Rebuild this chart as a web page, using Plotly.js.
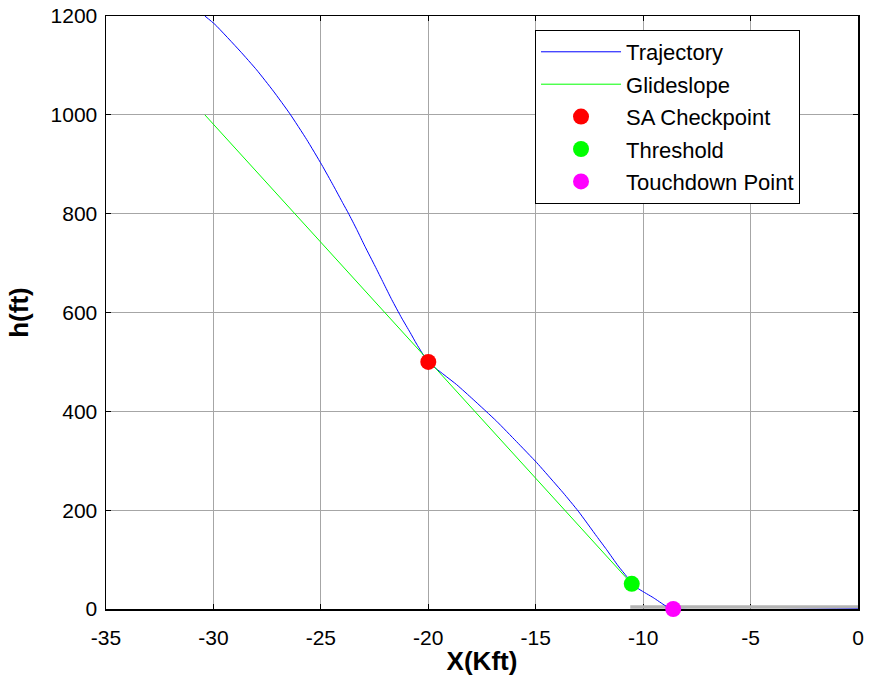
<!DOCTYPE html>
<html>
<head>
<meta charset="utf-8">
<script src="https://cdn.plot.ly/plotly-3.0.1.min.js"></script>
<style>
  html, body { margin: 0; padding: 0; background: #fff; }
  #chart { width: 870px; height: 683px; }
</style>
</head>
<body>
<div id="chart"></div>
<script>
// Trajectory (X in kft, h in ft)
var trajX = [-30.4, -29.93, -28.76, -27.99, -27.21, -26.44, -25.66, -24.96, -24.42, -23.96, -23.72, -23.33, -22.95, -22.48, -22.09, -21.70, -21.24, -20.85, -20.54, -20.0, -18.68, -17.91, -16.82, -15.9, -14.95, -14.18, -13.72, -13.02, -12.16, -11.70, -11.16, -10.77, -10.53, -10.15, -9.53, -8.98, -8.80, -8.6, 0];
var trajH = [1200, 1183, 1129, 1091, 1048, 1002, 950, 899, 857, 820, 801, 768, 734, 694, 660, 626, 589, 560, 536, 500, 454, 424, 380, 339, 296, 258, 235, 198, 147, 120, 87, 66, 51, 39, 23, 7, 3, 0, 0];

// Glideslope
var glideX = [-30.4, -10.53];
var glideH = [1000, 51];

// Runway
var runwayX = [-10.6, 0];
var runwayH = [4, 4];

// Key points
var saX = [-20.0], saH = [500];
var thrX = [-10.53], thrH = [51];
var tdX = [-8.6], tdH = [0];

var xTicks = [-35, -30, -25, -20, -15, -10, -5, 0];
var yTicks = [0, 200, 400, 600, 800, 1000, 1200];

var FONT = '"Liberation Sans", Arial, sans-serif';

var traces = [
  {x: runwayX, y: runwayH, mode: 'lines', line: {color: '#b4b4b4', width: 3.5}, showlegend: false, hoverinfo: 'skip', cliponaxis: false},
  {x: trajX, y: trajH, mode: 'lines', name: 'Trajectory', legendgroup: 'a', line: {color: '#0000ff', width: 1, shape: 'spline', smoothing: 0.5}, cliponaxis: false},
  {x: glideX, y: glideH, mode: 'lines', name: 'Glideslope', legendgroup: 'b', line: {color: '#00ff00', width: 1}},
  {x: saX, y: saH, mode: 'markers', name: 'SA Checkpoint', legendgroup: 'c', marker: {color: '#ff0000', size: 16}},
  {x: thrX, y: thrH, mode: 'markers', name: 'Threshold', legendgroup: 'd', marker: {color: '#00ff00', size: 16}},
  {x: tdX, y: tdH, mode: 'markers', name: 'Touchdown Point', legendgroup: 'e', marker: {color: '#ff00ff', size: 16}, cliponaxis: false}
];

var layout = {
  width: 870, height: 683,
  margin: {l: 106, r: 12, t: 16, b: 74},
  paper_bgcolor: '#ffffff', plot_bgcolor: '#ffffff',
  font: {family: FONT, color: '#000000', size: 21},
  showlegend: true,
  legend: {
    x: 0.5705, y: 0.9764, xanchor: 'left', yanchor: 'top',
    bgcolor: '#ffffff', bordercolor: '#000000', borderwidth: 1,
    font: {family: FONT, size: 22, color: '#000000'},
    traceorder: 'grouped', tracegroupgap: 0.8, itemwidth: 80
  },
  xaxis: {
    range: [-35, 0], tickvals: xTicks, ticktext: xTicks.map(String),
    showgrid: true, gridcolor: '#a6a6a6', gridwidth: 1,
    zeroline: false, showline: true, linecolor: '#000000', linewidth: 1.5,
    mirror: 'ticks', ticks: 'inside', ticklen: 5, tickcolor: '#000000',
    ticklabelstandoff: 9, layer: 'below traces',
    tickfont: {family: FONT, size: 21},
    title: {text: '<b>X(Kft)</b>', font: {family: FONT, size: 26}, standoff: 4}
  },
  yaxis: {
    range: [0, 1200], tickvals: yTicks, ticktext: yTicks.map(String),
    showgrid: true, gridcolor: '#a6a6a6', gridwidth: 1,
    zeroline: false, showline: true, linecolor: '#000000', linewidth: 1.5,
    mirror: 'ticks', ticks: 'inside', ticklen: 5, tickcolor: '#000000',
    ticklabelstandoff: 3, layer: 'below traces',
    tickfont: {family: FONT, size: 21},
    title: {text: '<b>h(ft)</b>', font: {family: FONT, size: 26}, standoff: 14}
  }
};

Plotly.newPlot('chart', traces, layout, {displayModeBar: false, staticPlot: true});
</script>
</body>
</html>
